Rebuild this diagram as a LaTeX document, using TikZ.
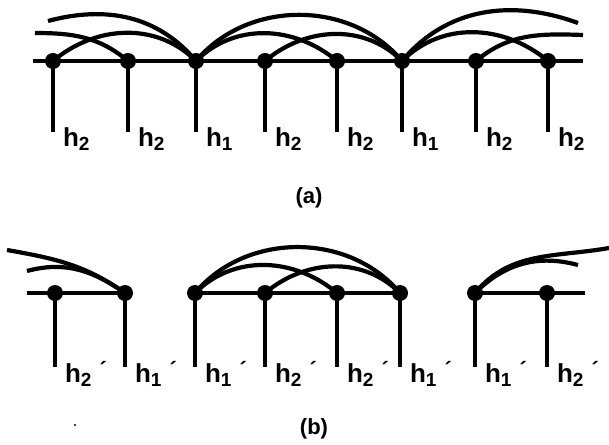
\documentclass[tikz,border=0pt]{standalone}
\usepackage{fontspec}
\setmainfont{Liberation Sans}
\usetikzlibrary{positioning}

\newcommand{\hsub}[1]{h\raisebox{-4pt}{\fontsize{19}{19}\selectfont #1}}
\newcommand{\hprime}[1]{\hsub{#1}\hspace{8pt}\raisebox{5pt}{\fontsize{22}{22}\selectfont ´}}

\begin{document}
\begin{tikzpicture}[x=1pt,y=1pt,line width=4.2pt]
  % some styles
  \tikzset{site/.style={circle,fill=black,inner sep=0pt,minimum size=16pt}}
  \tikzset{lab/.style={anchor=base west,inner sep=0pt,font=\bfseries\fontsize{26}{26}\selectfont}}
  \tikzset{capt/.style={inner sep=0pt,font=\bfseries\fontsize{22}{22}\selectfont}}

\useasboundingbox (0,0) rectangle (609,444);

% (a): the full chain
\coordinate (aL) at (33,383);
\coordinate (aR) at (583,383);
\draw (aL) -- (aR);
\foreach \x/\t [count=\i] in {53/2,128/2,196/1,265/2,337/2,402/1,476/2,548/2} {
   \node[site] (a\i) at (\x,383) {};
   \coordinate (a\i e) at (\x,312);
   \draw (a\i.center) -- (a\i e);
   \node[lab] (la\i) at (\x+8,297) {\hsub{\t}};
}
% long bonds h1--h1
\coordinate (aT1) at (48,423);
\coordinate (aT2) at (578,421);
\draw (aT1) to[out=15,in=130] (a3.center);
\draw (a3.center) to[out=50,in=130] (a6.center);
\draw (a6.center) to[out=50,in=160] (aT2);
% short bonds h2--h1
\coordinate (aS1) at (35,411);
\coordinate (aS2) at (583,409);
\draw (aS1) to[out=0,in=140] (a2.center);
\draw (a1.center) to[out=40,in=135] (a3.center);
\draw (a3.center) to[out=45,in=140] (a5.center);
\draw (a4.center) to[out=40,in=135] (a6.center);
\draw (a6.center) to[out=45,in=140] (a8.center);
\draw (a7.center) to[out=40,in=178] (aS2);
\node[capt] (capa) at (309,246) {(a)};

% (b): the broken chain
\foreach \x/\t [count=\i] in {55/2,125/1,195/1,265/2,337/2,400/1,475/1,547/2} {
   \node[site] (b\i) at (\x,151) {};
   \coordinate (b\i e) at (\x,77);
   \draw (b\i.center) -- (b\i e);
   \node[lab] (lb\i) at (\x+8,62) {\hprime{\t}};
}
\coordinate (bL) at (27,151);
\coordinate (bR) at (585,151);
\draw (bL) -- (b2.center);
\draw (b3.center) -- (b6.center);
\draw (b7.center) -- (bR);
% bonds
\coordinate (bT1) at (7,194);
\coordinate (bS1) at (27,173);
\coordinate (bT2) at (609,196);
\coordinate (bS2) at (578,179);
\draw (b2.center) to[out=145,in=-10] (bT1);
\draw (b2.center) to[out=145,in=15] (bS1);
\draw (b3.center) to[out=50,in=130] (b6.center);
\draw (b3.center) to[out=45,in=140] (b5.center);
\draw (b4.center) to[out=40,in=135] (b6.center);
\draw (b7.center) to[out=50,in=190] (bT2);
\draw (b7.center) to[out=45,in=165] (bS2);
\node[capt] (capb) at (314,15) {(b)};
\fill (75,19) circle (1.2);

\end{tikzpicture}
\end{document}
